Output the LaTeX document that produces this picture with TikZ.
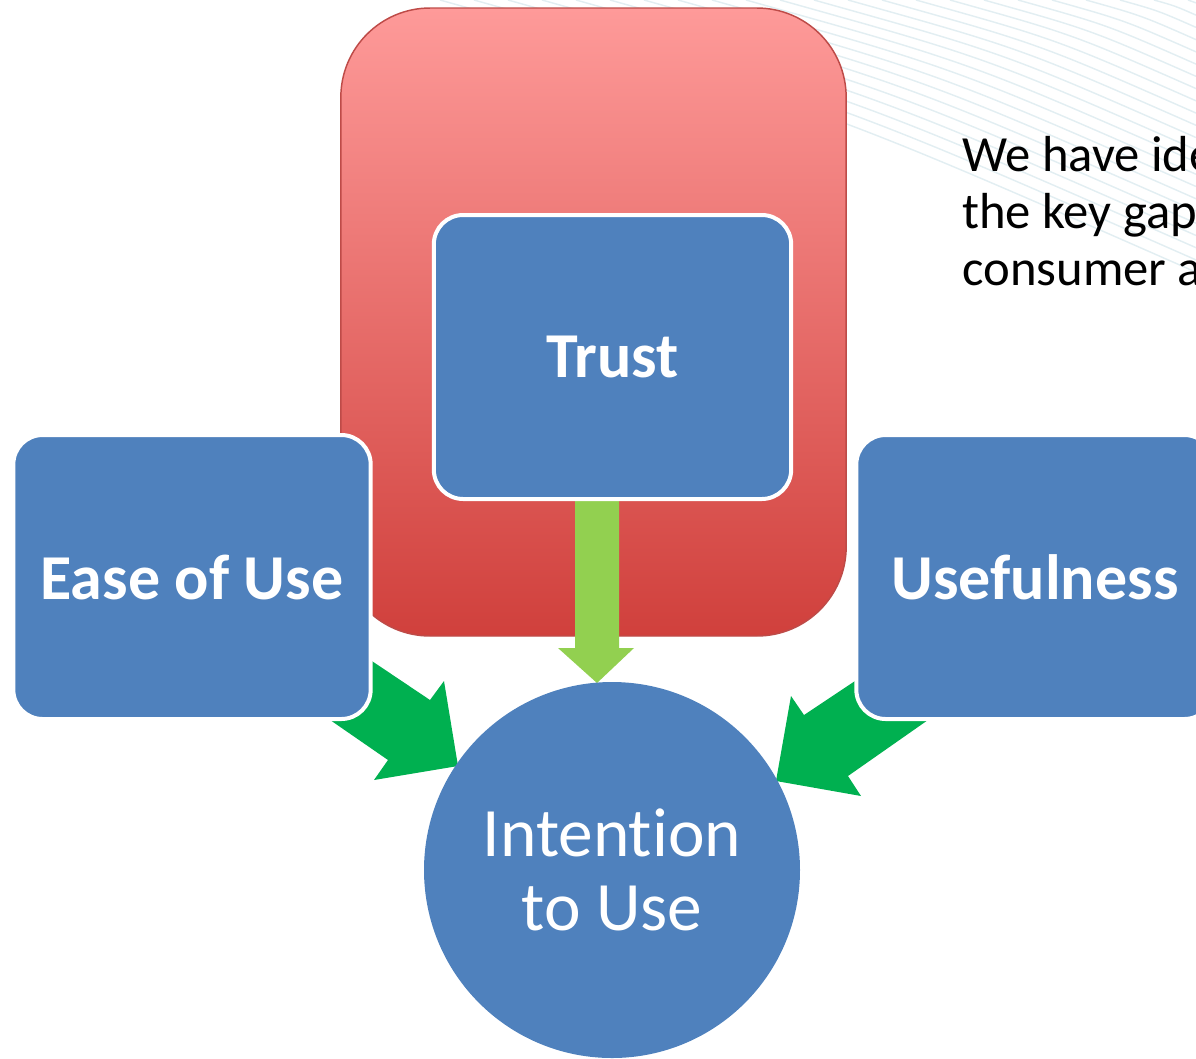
\documentclass[tikz,border=0pt]{standalone}
\usepackage{fontspec}
\setmainfont{Carlito}[Ligatures=NoCommon]
\usepackage{tikz}

\definecolor{boxblue}{RGB}{79,129,189}
\definecolor{arrowgreen}{RGB}{0,176,80}
\definecolor{limegreen}{RGB}{146,208,80}
\definecolor{redtop}{RGB}{254,154,153}
\definecolor{redbottom}{RGB}{208,64,60}
\definecolor{redline}{RGB}{190,75,72}
\definecolor{bgline}{RGB}{226,238,242}

\begin{document}
\begin{tikzpicture}[x=0.75pt,y=-0.75pt,
    factor/.style={rectangle, rounded corners=22pt, fill=boxblue, draw=white,
      line width=3pt, text=white, font=\fontsize{48}{58}\selectfont\bfseries,
      minimum width=268pt, minimum height=213pt},
    blockarrow/.style={fill=arrowgreen, draw=none},
    note/.style={anchor=base west, font=\fontsize{38}{46}\selectfont, inner sep=0pt}]

    \useasboundingbox (0,0) rectangle (1196,1058);
    \clip (0,0) rectangle (1196,1058);

    % faint background lines
    \foreach \i in {0,...,22}
      \draw[bgline, line width=1.1pt] ({440+34*\i},0)
        .. controls ({440+34*\i+0.5*(756-34*\i)},{0.14*(756-34*\i)})
        .. (1196,{0.36*(756-34*\i)});

    \node[rectangle, rounded corners=67pt, top color=redtop, bottom color=redbottom,
      draw=redline, line width=1.1pt, minimum width=379pt, minimum height=471pt]
      (zone) at (593.5,322) {};

    % arrows into the circle
    \fill[blockarrow] (320,713) -- (357,651) -- (430,700) -- (444,681) -- (458,766)
      -- (374,780) -- (388,760) -- cycle;
    \fill[blockarrow] (867,673) -- (804,715) -- (791,696) -- (776,781) -- (861,796)
      -- (848,776) -- (938,713) -- cycle;
    \fill[limegreen] (575,495) -- (575,648) -- (558,648) -- (597,683) -- (634,648)
      -- (619,648) -- (619,495) -- cycle;

    \node[factor] (trust) at (612.5,357) {Trust};
    \node[factor] (ease) at (192,577) {Ease of Use};
    \node[factor] (useful) at (1035,577) {Usefulness};

    \node[circle, fill=boxblue, minimum size=282pt, inner sep=0pt, text=white,
      align=center, font=\fontsize{52}{55}\selectfont] (intent) at (612,870)
      {Intention\\to Use};

    \node[note] (note1) at (962,171) {We have ide};
    \node[note] (note2) at (962,228) {the key gap};
    \node[note] (note3) at (962,285) {consumer ac};

\end{tikzpicture}
\end{document}
